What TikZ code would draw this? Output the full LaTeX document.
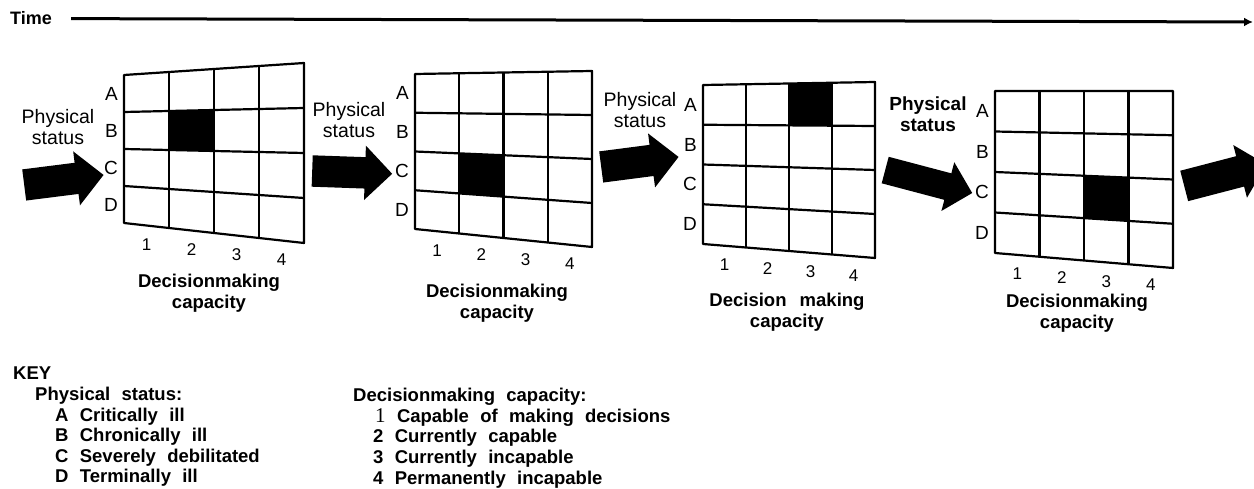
\documentclass[tikz,border=0pt]{standalone}
\usepackage{fontspec}
\setmainfont{Liberation Sans}
\newfontfamily\keyfont[WordSpace=2.2]{Liberation Sans}
\newfontfamily\onefont{Liberation Serif}
\usepackage{tikz}
\usetikzlibrary{shapes.arrows, arrows.meta, positioning, calc}

\tikzset{
  gridline/.style={line width=2.2pt, line join=round},
  rowlab/.style={anchor=east, inner sep=0pt, font=\fontsize{19}{21}\selectfont},
  collab/.style={inner sep=0pt, font=\fontsize{17}{19}\selectfont},
  dmcap/.style={align=center, inner sep=0pt, font=\fontsize{18.5}{20.5}\selectfont\bfseries},
  pslab/.style={align=center, inner sep=0pt, font=\fontsize{19.5}{21}\selectfont},
  keytext/.style={align=left, inner sep=0pt, anchor=north west,
      font=\keyfont\bfseries\fontsize{18.5}{20.6}\selectfont},
  fatarrow/.style={single arrow, fill=black, draw=none, inner xsep=0pt, inner ysep=15.5pt,
      anchor=tail, minimum height=#1, single arrow head extend=11.5pt},
  fatarrow/.default=80pt,
}

% one 4x4 panel: name, corners tl tr bl br, row and column of the black cell
\newcommand{\panel}[7]{%
  \coordinate (#1tl) at #2;
  \coordinate (#1tr) at #3;
  \coordinate (#1bl) at #4;
  \coordinate (#1br) at #5;
  \pgfmathsetmacro\cua{(#7-1)/4}\pgfmathsetmacro\cub{#7/4}
  \pgfmathsetmacro\cva{(#6-1)/4}\pgfmathsetmacro\cvb{#6/4}
  \coordinate (#1p1) at ($($(#1tl)!\cua!(#1tr)$)!\cva!($(#1bl)!\cua!(#1br)$)$);
  \coordinate (#1p2) at ($($(#1tl)!\cub!(#1tr)$)!\cva!($(#1bl)!\cub!(#1br)$)$);
  \coordinate (#1p3) at ($($(#1tl)!\cub!(#1tr)$)!\cvb!($(#1bl)!\cub!(#1br)$)$);
  \coordinate (#1p4) at ($($(#1tl)!\cua!(#1tr)$)!\cvb!($(#1bl)!\cua!(#1br)$)$);
  \fill (#1p1) -- (#1p2) -- (#1p3) -- (#1p4) -- cycle;
  \foreach \f in {0.25,0.5,0.75} {
    \draw[gridline] ($(#1tl)!\f!(#1bl)$) -- ($(#1tr)!\f!(#1br)$);
    \draw[gridline] ($(#1tl)!\f!(#1tr)$) -- ($(#1bl)!\f!(#1br)$);
  }
  \draw[gridline] (#1tl) -- (#1tr) -- (#1br) -- (#1bl) -- cycle;
  % row letters and column numbers
  \foreach \l [count=\i] in {A,B,C,D} {
    \pgfmathsetmacro\v{(\i-0.5)/4}
    \node[rowlab] (#1r\l) at ($(#1tl)!\v!(#1bl)+(-6,0)$) {\l};
  }
  \foreach \n in {1,2,3,4} {
    \pgfmathsetmacro\u{(\n-0.5)/4}
    \node[collab] (#1c\n) at ($(#1bl)!\u!(#1br)+(0,19)$) {\n};
  }
}

\begin{document}
\begin{tikzpicture}[x=1pt, y=-1pt]
  \useasboundingbox (0,0) rectangle (1254,489);

  % time line
  \node[anchor=west, inner sep=0pt, font=\fontsize{18}{20}\selectfont\bfseries] (time) at (10,18.5) {Time};
  \coordinate (tend) at (1253,22);
  \draw[line width=3pt, -{Latex[length=9pt,width=9pt]}, shorten <=19pt] (time) -- (tend);

  % panels
  \panel{ga}{(124,75)}{(304,63)}{(124,223)}{(304,243)}{2}{2}
  \panel{gb}{(415,74)}{(592,71)}{(415,229)}{(592,247)}{3}{2}
  \panel{gc}{(703,85)}{(875,82)}{(703,244)}{(875,258)}{1}{3}
  \panel{gd}{(995,91)}{(1173,91)}{(995,253)}{(1173,268)}{3}{3}

  % physical status labels
  \node[pslab] (gaps) at (58,127) {Physical\\status};
  \node[pslab] (gbps) at (349,120) {Physical\\status};
  \node[pslab] (gcps) at (640,110) {Physical\\status};
  \node[pslab, font=\fontsize{19}{21}\selectfont\bfseries] (gdps) at (928,114) {Physical\\status};

  % decisionmaking captions
  \node[dmcap] (gacap) at (209,293) {Decisionmaking\\capacity};
  \node[dmcap] (gbcap) at (497,303) {Decisionmaking\\capacity};
  \node[dmcap] (gccap) at (787,312) {Decision\hspace{8pt} making\\capacity};
  \node[dmcap] (gdcap) at (1077,313) {Decisionmaking\\capacity};

  % fat arrows
  \node[fatarrow=80pt, rotate=7.2] (aa) at (24,185) {};
  \node[fatarrow=80pt, rotate=-2] (ab) at (312,171) {};
  \node[fatarrow=78pt, rotate=7.4] (ac) at (601,167) {};
  \node[fatarrow=90pt, rotate=-14.8, inner ysep=13.5pt] (ad) at (885,170) {};
  \node[fatarrow=85pt, rotate=14.6] (ae) at (1184,186) {};

  % key
  \node[keytext] (keyps) at (13,367) {KEY\\
    \hspace*{22pt}Physical status:\\
    \hspace*{42pt}A Critically ill\\
    \hspace*{42pt}B Chronically ill\\
    \hspace*{42pt}C Severely debilitated\\
    \hspace*{42pt}D Terminally ill};
  \node[keytext] (keydm) at (353,388) {Decisionmaking capacity:\\
    \hspace*{22pt}{\onefont\mdseries\fontsize{21}{20}\selectfont 1} Capable of making decisions\\
    \hspace*{20pt}2 Currently capable\\
    \hspace*{20pt}3 Currently incapable\\
    \hspace*{20pt}4 Permanently incapable};
\end{tikzpicture}
\end{document}
